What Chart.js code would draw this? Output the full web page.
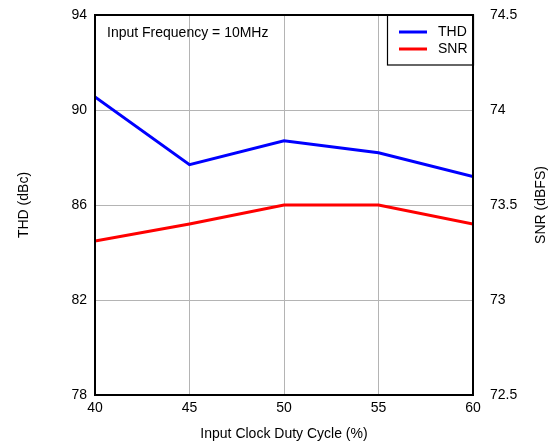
<!DOCTYPE html>
<html>
<head>
<meta charset="utf-8">
<script src="https://cdn.jsdelivr.net/npm/chart.js@4.4.1/dist/chart.umd.min.js"></script>
<style>
  html, body { margin: 0; padding: 0; background: #fff; }
  #wrap { width: 549px; height: 446px; }
</style>
</head>
<body>
<div id="wrap"><canvas id="duty_chart" width="549" height="446"></canvas></div>
<script>
// duty cycle sweep
var duty_cycle = [40, 45, 50, 55, 60];
var thd_values = [90.55, 87.7, 88.7, 88.2, 87.2];
var snr_values = [73.31, 73.40, 73.5, 73.5, 73.40];

var x_ticks = [40, 45, 50, 55, 60];
var thd_ticks = [78, 82, 86, 90, 94];
var snr_ticks = [72.5, 73, 73.5, 74, 74.5];

var note_text = 'Input Frequency = 10MHz';
var right_title = 'SNR (dBFS)';
var font_name = '"Liberation Sans", Arial, sans-serif';
var font_size = 14;

// frame, note, legend and right axis title are drawn by hand
var framePlugin = {
    id: 'frame',
    afterDatasetsDraw: function (chart) {
        var ctx = chart.ctx;
        var a = chart.chartArea;
        ctx.save();
        ctx.font = font_size + 'px ' + font_name;
        ctx.fillStyle = '#000';
        ctx.textBaseline = 'middle';
        ctx.fillText(note_text, a.left + 12, a.top + 18);

        // legend box
        var bx = a.right - 86, by = a.top, bw = 86, bh = 50;
        ctx.fillStyle = '#fff';
        ctx.fillRect(bx, by, bw, bh);
        ctx.strokeStyle = '#000';
        ctx.lineWidth = 1.2;
        ctx.strokeRect(bx + 0.5, by, bw, bh);
        chart.data.datasets.forEach(function (ds, i) {
            var y = by + 17 + i * 17;
            ctx.strokeStyle = ds.borderColor;
            ctx.lineWidth = 3;
            ctx.beginPath();
            ctx.moveTo(bx + 12, y);
            ctx.lineTo(bx + 40, y);
            ctx.stroke();
            ctx.fillStyle = '#000';
            ctx.fillText(ds.label, bx + 51, y);
        });

        ctx.strokeStyle = '#000';
        ctx.lineWidth = 2;
        ctx.strokeRect(a.left, a.top, a.right - a.left, a.bottom - a.top);

        // right title reads bottom to top like the left one
        ctx.translate(541, (a.top + a.bottom) / 2);
        ctx.rotate(-Math.PI / 2);
        ctx.textAlign = 'center';
        ctx.fillStyle = '#000';
        ctx.fillText(right_title, 0, 0);
        ctx.restore();
    }
};

// keep tick label overflow from pushing the plot area down
function noPad(s) { s.paddingTop = 0; s.paddingBottom = 0; }

var canvas = document.getElementById('duty_chart');

var setup = {
    type: 'line',
    data: {
        labels: duty_cycle,
        datasets: [
            {
                label: 'THD',
                data: duty_cycle.map(function (d, i) { return { x: d, y: thd_values[i] }; }),
                borderColor: '#0000ff',
                backgroundColor: '#0000ff',
                borderWidth: 3,
                pointRadius: 0,
                tension: 0,
                yAxisID: 'yl'
            },
            {
                label: 'SNR',
                data: duty_cycle.map(function (d, i) { return { x: d, y: snr_values[i] }; }),
                borderColor: '#ff0000',
                backgroundColor: '#ff0000',
                borderWidth: 3,
                pointRadius: 0,
                tension: 0,
                yAxisID: 'yr'
            }
        ]
    },
    options: {
        responsive: false,
        animation: false,
        layout: { padding: { top: 15, left: 0, right: 0, bottom: 0 } },
        plugins: { legend: { display: false }, tooltip: { enabled: false } },
        scales: {
            x: {
                type: 'linear',
                min: 40, max: 60,
                afterBuildTicks: function (s) { s.ticks = x_ticks.map(function (v) { return { value: v }; }); },
                afterFit: function (s) { s.height = 51; s.paddingLeft = 0; s.paddingRight = 0; },
                grid: { color: '#b4b4b4', lineWidth: 1, drawTicks: false },
                border: { display: false },
                ticks: { color: '#000', font: { size: font_size, family: font_name }, padding: 5, maxRotation: 0 },
                title: { display: true, text: 'Input Clock Duty Cycle (%)', color: '#000', font: { size: font_size, family: font_name }, padding: { top: 7, bottom: 3 } }
            },
            yl: {
                position: 'left',
                min: 78, max: 94,
                afterBuildTicks: function (s) { s.ticks = thd_ticks.map(function (v) { return { value: v }; }); },
                afterFit: function (s) { s.width = 95; noPad(s); },
                grid: { color: '#b4b4b4', lineWidth: 1, drawTicks: false },
                border: { display: false },
                ticks: { color: '#000', font: { size: font_size, family: font_name }, padding: 8 },
                title: { display: true, text: 'THD (dBc)', color: '#000', font: { size: font_size, family: font_name }, padding: { bottom: 0, top: 16 } }
            },
            yr: {
                position: 'right',
                min: 72.5, max: 74.5,
                afterBuildTicks: function (s) { s.ticks = snr_ticks.map(function (v) { return { value: v }; }); },
                afterFit: function (s) { s.width = 76; noPad(s); },
                grid: { display: false },
                border: { display: false },
                ticks: {
                    color: '#000', font: { size: font_size, family: font_name }, padding: 9,
                    callback: function (v) { return String(v); }
                }
            }
        }
    },
    plugins: [framePlugin]
};

var chart = new Chart(canvas, setup);
</script>
</body>
</html>
